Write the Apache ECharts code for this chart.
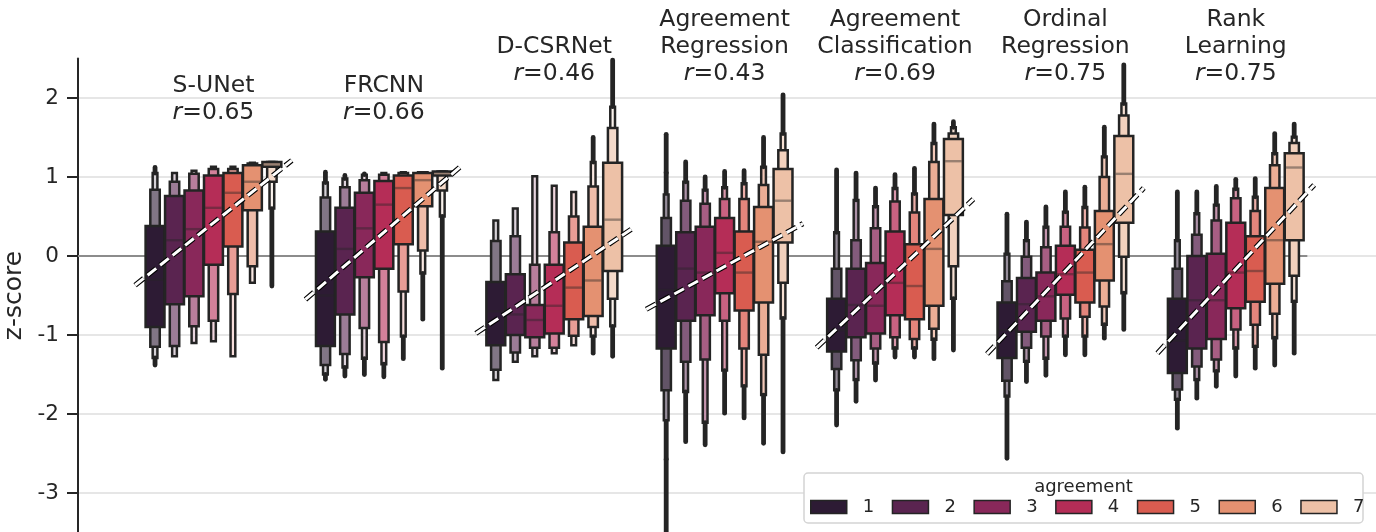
<!DOCTYPE html>
<html><head><meta charset="utf-8">
<script src="https://cdn.jsdelivr.net/npm/echarts@6/dist/echarts.min.js"></script>
<style>html,body{margin:0;padding:0;background:#fff}#c{width:1376px;height:532px}</style>
</head><body><div id="c"></div>
<script>
// ---------------- data ----------------
const methods = ['S-UNet', 'FRCNN', 'D-CSRNet', 'Agreement\nRegression', 'Agreement\nClassification', 'Ordinal\nRegression', 'Rank\nLearning'];
const correlations = ['0.65', '0.66', '0.46', '0.43', '0.69', '0.75', '0.75'];
const agreementLevels = ['1', '2', '3', '4', '5', '6', '7'];
const yTicks = [-3, -2, -1, 0, 1, 2];

// letter values of each box, agreement 1..7: [min, ..., q1, median, q3, ..., max]
const sUNet = [
  [-1.38, -1.29, -1.15, -0.90, -0.30, 0.38, 0.84, 1.05, 1.12],
  [-1.27, -1.27, -1.14, -0.61, 0.20, 0.76, 0.94, 1.05, 1.05],
  [-1.10, -1.10, -0.89, -0.51, 0.34, 0.83, 1.04, 1.08, 1.08],
  [-1.08, -1.08, -0.82, -0.11, 0.61, 1.02, 1.10, 1.13, 1.13],
  [-1.27, -1.27, -0.48, 0.12, 0.80, 1.05, 1.10, 1.13, 1.13],
  [-0.34, -0.34, -0.13, 0.58, 0.94, 1.15, 1.17, 1.18, 1.18],
  [-0.38, 0.60, 0.94, 1.13, 1.16, 1.19, 1.19, 1.19, 1.19]
];
const frcnn = [
  [-1.56, -1.50, -1.38, -1.14, -0.50, 0.31, 0.74, 0.93, 1.06],
  [-1.52, -1.41, -1.24, -0.74, 0.09, 0.61, 0.87, 0.98, 1.02],
  [-1.50, -1.30, -0.91, -0.27, 0.35, 0.80, 0.96, 1.03, 1.04],
  [-1.53, -1.37, -1.09, -0.16, 0.65, 0.95, 1.03, 1.05, 1.05],
  [-1.30, -1.02, -0.45, 0.15, 0.86, 1.02, 1.05, 1.06, 1.06],
  [-0.80, -0.22, 0.07, 0.63, 0.96, 1.05, 1.06, 1.06, 1.06],
  [-1.42, 0.50, 0.83, 1.02, 1.05, 1.07, 1.07, 1.07, 1.07]
];
const dCsrNet = [
  [-1.57, -1.57, -1.44, -1.13, -0.70, -0.33, 0.19, 0.45, 0.45],
  [-1.34, -1.34, -1.22, -1.00, -0.74, -0.23, 0.25, 0.60, 0.60],
  [-1.27, -1.27, -1.16, -1.03, -0.81, -0.62, -0.11, 1.01, 1.01],
  [-1.23, -1.23, -1.16, -0.98, -0.63, -0.11, 0.30, 0.89, 0.89],
  [-1.13, -1.13, -1.01, -0.80, -0.40, 0.17, 0.50, 0.81, 0.81],
  [-1.23, -1.02, -0.90, -0.76, -0.31, 0.37, 0.88, 1.19, 1.50],
  [-1.27, -0.89, -0.54, -0.19, 0.46, 1.18, 1.62, 1.89, 2.48]
];
const agreementRegression = [
  [-3.50, -2.57, -2.08, -1.70, -1.17, -0.43, 0.13, 0.48, 0.78, 1.05, 1.54],
  [-2.35, -1.72, -1.34, -0.82, -0.16, 0.30, 0.70, 0.94, 1.19],
  [-2.39, -2.11, -1.31, -0.75, -0.21, 0.37, 0.66, 0.84, 1.00],
  [-1.99, -1.45, -0.82, -0.47, 0.04, 0.48, 0.72, 0.87, 1.07],
  [-2.05, -1.65, -1.17, -0.69, -0.21, 0.31, 0.72, 0.92, 1.08],
  [-2.37, -1.76, -1.25, -0.59, 0.18, 0.62, 0.90, 1.13, 1.50],
  [-2.48, -0.79, -0.34, 0.17, 0.70, 1.10, 1.34, 1.55, 2.04]
];
const agreementClassification = [
  [-2.14, -1.70, -1.43, -1.21, -0.94, -0.54, -0.16, 0.30, 1.09],
  [-1.84, -1.57, -1.32, -1.03, -0.62, -0.16, 0.20, 0.71, 1.05],
  [-1.57, -1.36, -1.17, -0.98, -0.63, -0.09, 0.35, 0.63, 0.86],
  [-1.28, -1.17, -1.03, -0.75, -0.34, 0.31, 0.69, 0.86, 1.03],
  [-1.28, -1.17, -1.05, -0.80, -0.38, 0.15, 0.55, 0.79, 1.11],
  [-1.30, -1.06, -0.92, -0.63, 0.09, 0.72, 1.19, 1.43, 1.67],
  [-1.19, -0.54, -0.13, 0.52, 1.20, 1.48, 1.55, 1.63, 1.70]
];
const ordinalRegression = [
  [-2.56, -1.78, -1.58, -1.29, -0.94, -0.59, -0.32, 0.03, 0.53],
  [-1.59, -1.34, -1.16, -0.96, -0.61, -0.28, -0.01, 0.20, 0.43],
  [-1.51, -1.30, -1.02, -0.82, -0.51, -0.21, 0.11, 0.37, 0.62],
  [-1.25, -1.02, -0.79, -0.49, -0.23, 0.13, 0.37, 0.56, 0.81],
  [-1.25, -1.02, -0.77, -0.59, -0.21, 0.08, 0.36, 0.62, 0.87],
  [-1.04, -0.87, -0.64, -0.31, 0.15, 0.57, 1.00, 1.26, 1.63],
  [-0.93, -0.47, -0.01, 0.42, 1.04, 1.52, 1.78, 1.93, 2.42]
];
const rankLearning = [
  [-2.18, -1.82, -1.69, -1.48, -1.07, -0.54, -0.16, 0.20, 0.81],
  [-1.80, -1.57, -1.40, -1.17, -0.56, 0.00, 0.27, 0.54, 0.81],
  [-1.65, -1.46, -1.31, -1.05, -0.56, 0.03, 0.45, 0.65, 0.88],
  [-1.52, -1.17, -0.93, -0.66, -0.21, 0.42, 0.73, 0.85, 0.97],
  [-1.42, -1.15, -0.87, -0.58, -0.19, 0.25, 0.57, 0.75, 0.98],
  [-1.38, -1.04, -0.73, -0.35, 0.20, 0.86, 1.15, 1.30, 1.55],
  [-1.23, -0.58, -0.25, 0.20, 1.12, 1.30, 1.43, 1.51, 1.67]
];
const boxData = [sUNet, frcnn, dCsrNet, agreementRegression, agreementClassification, ordinalRegression, rankLearning];

// regression fit: z-score at left and right end of each group
const fitStart = [-0.37, -0.55, -0.98, -0.675, -1.16, -1.24, -1.23];
const fitEnd = [1.21, 1.15, 0.35, 0.41, 0.72, 0.86, 0.90];

// ---------------- layout / style ----------------
const X_MIN = -0.795, X_MAX = 6.823;
const STEP = 0.8 / 7;
const FIT_HALF = 0.46;
const ZERO_END = 6.42;
const LABEL_Y = [1.64, 1.64, 2.13, 2.13, 2.13, 2.13, 2.13];
const palette = ['#2d1b34', '#5a2450', '#89285a', '#b52d57', '#d95c50', '#e49171', '#edc1a7'];
const shadeStep = [0.40, 0.40, 0.40, 0.25, 0.25, 0.25, 0.25];
const EDGE = '#242424';
const FONT = 'DejaVu Sans';
const TXT = '#262626';

function mixWhite(hex, f) {
  const n = parseInt(hex.slice(1), 16);
  const r = (n >> 16) & 255, g = (n >> 8) & 255, b = n & 255;
  const m = c => Math.round(c + (255 - c) * f);
  return 'rgb(' + m(r) + ',' + m(g) + ',' + m(b) + ')';
}

function boxRenderer(a) {
  return function (params, api) {
    const g = api.value(0);
    const vals = boxData[g][a];
    const cx = g + (a - 3) * STEP;
    const n = vals.length, mid = (n - 1) / 2, k = mid - 1;
    const fullW = api.size([STEP, 0])[0] * 0.97;
    const pt = v => api.coord([cx, v]);
    const xc = pt(vals[mid])[0];
    const children = [];
    for (let j = k - 1; j >= 0; j--) {
      const lo = vals[mid - 1 - j], hi = vals[mid + 1 + j];
      const w = fullW * Math.pow(0.5, j);
      const yT = pt(hi)[1], yB = pt(lo)[1];
      children.push({
        type: 'rect',
        shape: { x: xc - w / 2, y: yT, width: w, height: Math.max(yB - yT, 0) },
        style: { fill: mixWhite(palette[a], Math.min(0.85, j * shadeStep[g])), stroke: EDGE, lineWidth: 2.5 }
      });
    }
    const ym = pt(vals[mid])[1];
    children.push({
      type: 'line',
      shape: { x1: xc - fullW / 2 + 1.2, y1: ym, x2: xc + fullW / 2 - 1.2, y2: ym },
      style: { stroke: 'rgba(38,38,38,0.42)', lineWidth: 2.4 }
    });
    if (vals[0] < vals[1]) {
      children.push({ type: 'line', shape: { x1: xc, y1: pt(vals[1])[1], x2: xc, y2: pt(vals[0])[1] },
        style: { stroke: EDGE, lineWidth: 4.8, lineCap: 'round' } });
    }
    if (vals[n - 1] > vals[n - 2]) {
      children.push({ type: 'line', shape: { x1: xc, y1: pt(vals[n - 2])[1], x2: xc, y2: pt(vals[n - 1])[1] },
        style: { stroke: EDGE, lineWidth: 4.8, lineCap: 'round' } });
    }
    return { type: 'group', children };
  };
}

const series = [];
series.push({
  type: 'line', name: 'zero', silent: true, symbol: 'none', z: 1,
  data: [[X_MIN, 0], [ZERO_END, 0]],
  lineStyle: { color: '#8c8c8c', width: 2 }
});
agreementLevels.forEach((lvl, a) => {
  series.push({
    type: 'custom', name: lvl, z: 2, silent: true,
    itemStyle: { color: palette[a] },
    data: boxData.map((grp, g) => [g, grp[a][(grp[a].length - 1) / 2]]),
    renderItem: boxRenderer(a)
  });
});
methods.forEach((m, g) => {
  const d = [[g - FIT_HALF, fitStart[g]], [g + FIT_HALF, fitEnd[g]]];
  series.push({ type: 'line', silent: true, symbol: 'none', z: 5, data: d,
    lineStyle: { color: '#000', width: 5.2, type: [11, 5], cap: 'butt' } });
  series.push({ type: 'line', silent: true, symbol: 'none', z: 6, data: d,
    lineStyle: { color: '#fff', width: 3, type: [11, 5], cap: 'butt' } });
});
series.push({
  type: 'custom', silent: true, z: 7,
  data: methods.map((m, g) => [g, LABEL_Y[g]]),
  renderItem: function (params, api) {
    const g = api.value(0);
    const p = api.coord([g, LABEL_Y[g]]);
    const lines = methods[g].split('\n').map(s => '{n|' + s + '}');
    lines.push('{i|r}{n|=' + correlations[g] + '}');
    const base = { fontFamily: FONT, fontSize: 23.5, lineHeight: 27, fill: TXT, align: 'center' };
    return {
      type: 'text', x: p[0], y: p[1],
      style: {
        text: lines.join('\n'), align: 'center', verticalAlign: 'bottom',
        fontFamily: FONT, fontSize: 23.5, lineHeight: 27, fill: TXT,
        rich: { n: base, i: Object.assign({}, base, { fontStyle: 'italic' }) }
      }
    };
  }
});

const chart = echarts.init(document.getElementById('c'), null, { renderer: 'canvas' });
chart.setOption({
  animation: false,
  backgroundColor: '#fff',
  grid: { left: 78, right: 0, top: 58.5, height: 474, containLabel: false, outerBoundsMode: 'none' },
  xAxis: { type: 'value', min: X_MIN, max: X_MAX, show: false },
  yAxis: {
    type: 'value', min: -3.5, max: 2.5,
    name: 'z-score', nameLocation: 'middle', nameGap: 45,
    nameTextStyle: { fontFamily: FONT, fontSize: 25, color: TXT },
    axisLine: { show: true, onZero: false, lineStyle: { color: TXT, width: 2 } },
    axisTick: { show: true, length: 11, customValues: yTicks, lineStyle: { color: TXT, width: 2 } },
    axisLabel: { customValues: yTicks, fontFamily: FONT, fontSize: 21.5, color: TXT, margin: 19 },
    splitLine: { show: true, lineStyle: { color: '#dedede', width: 1.5 } }
  },
  legend: {
    data: agreementLevels, left: 810, top: 497, padding: 0, z: 100,
    itemWidth: 36, itemHeight: 13, itemGap: 17.5, icon: 'rect', selectedMode: false,
    itemStyle: { borderColor: EDGE, borderWidth: 1.5 },
    textStyle: { fontFamily: FONT, fontSize: 18, color: TXT, padding: [0, 0, 0, 11], lineHeight: 20 }
  },
  graphic: [
    { type: 'rect', z: 50, shape: { x: 804, y: 473, width: 559, height: 50, r: 4 },
      style: { fill: '#fff', stroke: '#d4d4d4', lineWidth: 1.5 } },
    { type: 'text', z: 51, x: 1083.5, y: 487,
      style: { text: 'agreement', fontFamily: FONT, fontSize: 18, fill: TXT, align: 'center', verticalAlign: 'middle' } }
  ],
  series: series
});
</script></body></html>
